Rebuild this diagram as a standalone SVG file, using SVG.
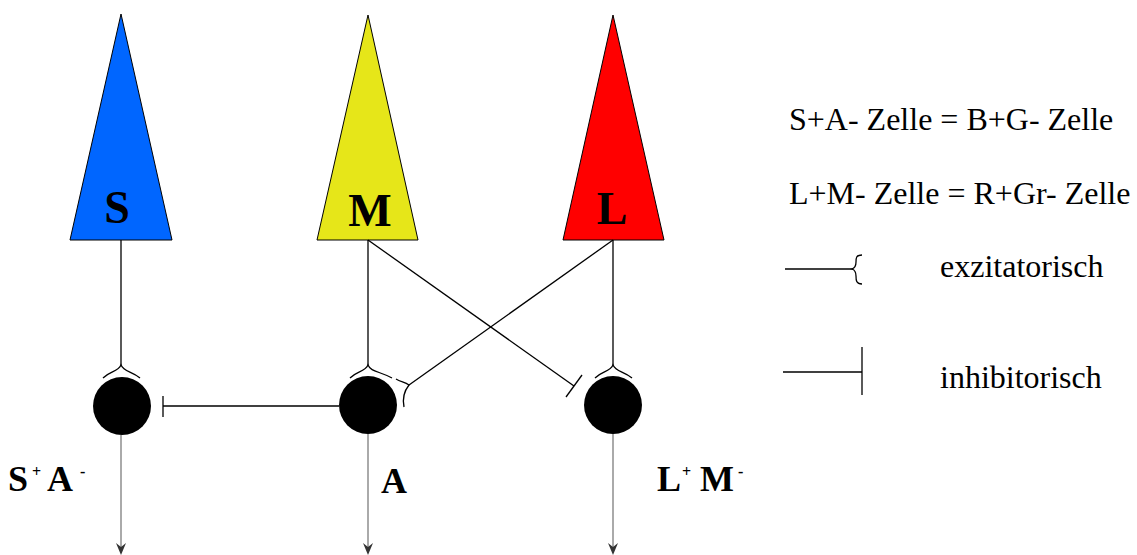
<svg xmlns="http://www.w3.org/2000/svg" width="1137" height="555" viewBox="0 0 1137 555">
<defs>
<style>
.cone{stroke:#000;stroke-width:1}
.big{font-family:"Liberation Serif","Times New Roman",serif;font-weight:bold;font-size:46px;fill:#000;text-anchor:middle}
.lab{font-family:"Liberation Serif","Times New Roman",serif;font-weight:bold;font-size:36px;fill:#000}
.sup{font-size:16px}
.leg{font-family:"Liberation Serif","Times New Roman",serif;font-size:32px;fill:#000}
.ln{fill:none;stroke:#000;stroke-width:1.3}
.out{fill:none;stroke:#aaa;stroke-width:2}
.head{fill:#333}
.cell{fill:#000}
</style>
</defs>
<rect width="1137" height="555" fill="#fff"/>

<g id="cone-S">
<polygon class="cone" points="121,14 70,240 172,240" fill="#0066ff"/>
<text class="big" x="117" y="223">S</text>
</g>
<g id="cone-M">
<polygon class="cone" points="368,15 317,240 418,240" fill="#e6e619"/>
<text class="big" x="370" y="226">M</text>
</g>
<g id="cone-L">
<polygon class="cone" points="613,15 563,240 664,240" fill="#ff0000"/>
<text class="big" x="612" y="224">L</text>
</g>

<g id="cell-SA">
<circle class="cell" cx="122" cy="406" r="29"/>
<text class="lab" x="8" y="491">S<tspan class="sup" x="32" y="477">+</tspan><tspan x="47" y="491">A</tspan><tspan class="sup" x="80" y="477">-</tspan></text>
</g>
<g id="cell-A">
<circle class="cell" cx="368" cy="405" r="29"/>
<text class="lab" x="381" y="493">A</text>
</g>
<g id="cell-LM">
<circle class="cell" cx="613" cy="405" r="29"/>
<text class="lab" x="657" y="491">L<tspan class="sup" x="682" y="477">+</tspan><tspan x="700" y="491">M</tspan><tspan class="sup" x="738" y="477">-</tspan></text>
</g>

<g id="connectors">
<!-- vertical excitatory -->
<path class="ln" d="M121,240 V365"/>
<path class="ln" d="M103,378 C110,371 118,372 121,365 C124,372 132,371 140,378"/>
<path class="ln" d="M368,240 V365"/>
<path class="ln" d="M350,378 C357,371 365,372 368,365 C371,372 379,371 392,378"/>
<path class="ln" d="M613,240 V365"/>
<path class="ln" d="M595,378 C602,371 610,372 613,365 C616,372 624,371 632,378"/>
<!-- inhibitory M -> S -->
<path class="ln" d="M339,406 H163"/>
<path class="ln" d="M163,396 V417"/>
<!-- cross inhibitory M -> L -->
<path class="ln" d="M368,240 L574,386"/>
<path class="ln" d="M566,397 L582,375"/>
<!-- cross excitatory L -> A -->
<path class="ln" d="M613,240 L409,385"/>
<path class="ln" d="M396,379 C401,382 405,382 409,385 C405,390 402,397 404,407"/>
<!-- outputs -->
<path class="out" d="M121,435 V550"/>
<path class="head" d="M116,543 L121,555 L126,543 L121,547 Z"/>
<path class="out" d="M368,434 V550"/>
<path class="head" d="M363,543 L368,555 L373,543 L368,547 Z"/>
<path class="out" d="M613,434 V550"/>
<path class="head" d="M608,543 L613,555 L618,543 L613,547 Z"/>
</g>

<g id="legend">
<text class="leg" x="789" y="130">S+A- Zelle = B+G- Zelle</text>
<text class="leg" x="789" y="204">L+M- Zelle = R+Gr- Zelle</text>
<path class="ln" d="M785,269 H853"/>
<path class="ln" d="M862,255 C856,255 856,258 856,262 C856,266 855,268 852,269 C855,270 856,272 856,276 C856,280 856,284 862,284"/>
<text class="leg" x="940" y="277">exzitatorisch</text>
<path class="ln" d="M783,372 H862"/>
<path class="ln" d="M862,347 V395"/>
<text class="leg" x="940" y="388">inhibitorisch</text>
</g>
</svg>
